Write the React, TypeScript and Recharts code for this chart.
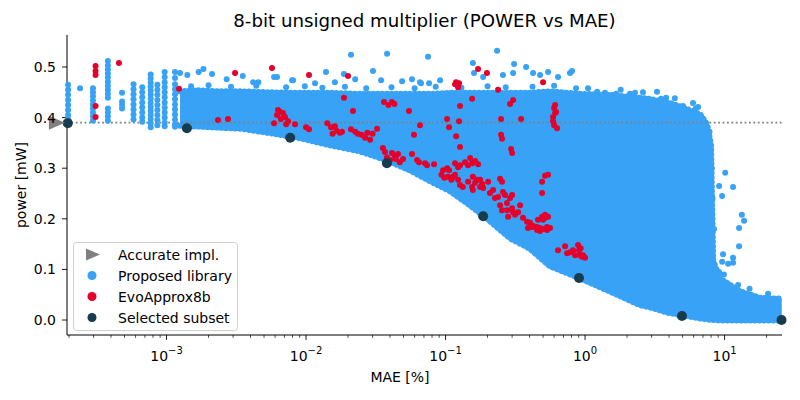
import React from "react";
import {
  Area,
  ComposedChart,
  ReferenceDot,
  ReferenceLine,
  Scatter,
  XAxis,
  YAxis,
} from "recharts";

// MAE [%] (log axis) / power [mW]
const majorTicks = [1e-3, 1e-2, 1e-1, 1, 10];
const majorExponents = ["\u22123", "\u22122", "\u22121", "0", "1"];
const minorTicks = [
  2e-4, 3e-4, 4e-4, 5e-4, 6e-4, 7e-4, 8e-4, 9e-4,
  2e-3, 3e-3, 4e-3, 5e-3, 6e-3, 7e-3, 8e-3, 9e-3,
  2e-2, 3e-2, 4e-2, 5e-2, 6e-2, 7e-2, 8e-2, 9e-2,
  0.2, 0.3, 0.4, 0.5, 0.6, 0.7, 0.8, 0.9,
  2, 3, 4, 5, 6, 7, 8, 9, 20,
];
const powerTicks = [0, 0.1, 0.2, 0.3, 0.4, 0.5];

const accurateMae = 1.61e-4;
const accuratePower = 0.39;

// dense part of the proposed library cloud: lower / upper envelope
const bandMae = [
  1.25e-3, 1.74e-3, 2.4e-3, 3.4e-3, 5.5e-3, 9.1e-3, 0.0148, 0.0244, 0.038,
  0.056, 0.0775, 0.108, 0.15, 0.208, 0.29, 0.4, 0.56, 0.92, 1.51, 2.48, 2.9,
  4.07, 4.8, 6.67, 7.5, 8.0, 8.3, 9.3, 12.9, 17.9, 25.7,
];
const bandLow = [
  0.384, 0.382, 0.38, 0.378, 0.369, 0.359, 0.345, 0.333, 0.315, 0.295, 0.274,
  0.254, 0.226, 0.195, 0.161, 0.141, 0.106, 0.082, 0.056, 0.029, 0.025, 0.013,
  0.01, 0.003, 0.001, 0.0, 0.0, -0.001, -0.001, -0.001, -0.001,
];
const bandHigh = [
  0.452, 0.454, 0.452, 0.452, 0.45, 0.449, 0.449, 0.447, 0.447, 0.447, 0.447,
  0.449, 0.449, 0.449, 0.449, 0.449, 0.452, 0.447, 0.445, 0.439, 0.437, 0.429,
  0.422, 0.407, 0.387, 0.347, 0.117, 0.082, 0.057, 0.044, 0.042,
];

// vertical streaks of the proposed library at small MAE
const libraryColumns: [number, number[]][] = [
  [1.97e-4, [0.465, 0.455, 0.445, 0.435, 0.425, 0.415, 0.405, 0.396]],
  [2.4e-4, [0.458]],
  [2.97e-4, [0.458, 0.45, 0.442, 0.434, 0.426, 0.418, 0.41, 0.402, 0.394]],
  [3.8e-4, [0.512, 0.503, 0.495, 0.487, 0.479, 0.471, 0.463, 0.455, 0.447, 0.439, 0.418, 0.41, 0.402, 0.394]],
  [4.8e-4, [0.449, 0.432, 0.425, 0.418]],
  [5.8e-4, [0.466, 0.456, 0.446, 0.436, 0.426, 0.416, 0.406, 0.396]],
  [6.7e-4, [0.46, 0.45, 0.44, 0.43, 0.42, 0.41, 0.4, 0.392]],
  [7.7e-4, [0.485, 0.477, 0.469, 0.461, 0.453, 0.445, 0.437, 0.429, 0.421, 0.413, 0.405, 0.397, 0.389, 0.381]],
  [8.6e-4, [0.465, 0.455, 0.445, 0.435, 0.425, 0.415, 0.405, 0.395, 0.385]],
  [9.7e-4, [0.49, 0.48, 0.47, 0.46, 0.45, 0.44, 0.43, 0.42, 0.41, 0.4, 0.39, 0.383]],
  [1.15e-3, [0.49, 0.478, 0.466, 0.456, 0.446, 0.436, 0.426, 0.416, 0.406, 0.396, 0.386, 0.382]],
];

// scattered library points outside the dense band
const libraryOutliers: [number, number][] = [
  [1.25e-3, 0.488], [1.41e-3, 0.484], [1.7e-3, 0.49], [1.84e-3, 0.496],
  [2.12e-3, 0.486], [2.7e-3, 0.476], [3.52e-3, 0.482], [4.18e-3, 0.47],
  [4.55e-3, 0.47], [5.9e-3, 0.48], [6.2e-3, 0.48], [7.94e-3, 0.474],
  [8.07e-3, 0.474], [0.0116, 0.468], [0.0139, 0.49], [0.0161, 0.47],
  [0.0187, 0.486], [0.021, 0.524], [0.0225, 0.476], [0.0302, 0.492],
  [0.0345, 0.474], [0.0381, 0.526], [0.0488, 0.472], [0.0575, 0.476],
  [0.0656, 0.47], [0.0667, 0.468], [0.0749, 0.52], [0.0762, 0.468],
  [0.0914, 0.474], [0.157, 0.508], [0.16, 0.488], [0.186, 0.48],
  [0.234, 0.532], [0.258, 0.484], [0.305, 0.488], [0.31, 0.506],
  [0.378, 0.5], [0.424, 0.488], [0.476, 0.484], [0.543, 0.49],
  [0.64, 0.48], [0.78, 0.488], [0.807, 0.492], [0.862, 0.458],
  [1.22, 0.451], [1.39, 0.449], [1.67, 0.447], [2.1, 0.447], [2.28, 0.449],
  [3.28, 0.451], [3.51, 0.437], [3.81, 0.439], [5.04, 0.423], [5.94, 0.429],
  [6.46, 0.421], [6.79, 0.401], [10.1, 0.291], [11.5, 0.263], [9.14, 0.265],
  [9.6, 0.245], [13.3, 0.208], [13.8, 0.196], [12.7, 0.182], [12.7, 0.146],
  [9.75, 0.13], [11.5, 0.123], [9.6, 0.115], [10.6, 0.111], [11.5, 0.113],
  [9.14, 0.095], [12.5, 0.069],
  // ragged rim just above the dense band
  [1.5e-3, 0.462], [2.0e-3, 0.464], [2.9e-3, 0.461], [4.4e-3, 0.463],
  [0.0072, 0.46], [0.0098, 0.462], [0.0131, 0.459], [0.019, 0.461],
  [0.027, 0.458], [0.041, 0.46], [0.06, 0.458], [0.085, 0.461],
  [0.13, 0.459], [0.2, 0.462], [0.27, 0.46], [0.42, 0.461], [0.6, 0.463],
  [1.05, 0.458], [1.8, 0.455], [2.6, 0.45], [4.4, 0.438], [6.2, 0.418],
  [7.8, 0.372], [8.1, 0.3], [8.2, 0.24], [8.4, 0.18],
  [9.9, 0.09], [15.1, 0.062], [20.5, 0.052],
];

const evoApprox: [number, number][] = [
  [3.1e-4, 0.502], [3.1e-4, 0.492], [3.1e-4, 0.484], [3.1e-4, 0.423], [3.1e-4, 0.401],
  [4.56e-4, 0.508], [1.23e-3, 0.457], [2.34e-3, 0.395], [2.76e-3, 0.397],
  [3.1e-3, 0.488], [5.7e-3, 0.498], [5.9e-3, 0.389],
  [6.3e-3, 0.415], [6.52e-3, 0.411], [6.84e-3, 0.409], [7.07e-3, 0.401],
  [7.43e-3, 0.393], [6.6e-3, 0.397], [7.2e-3, 0.387], [6.2e-3, 0.405], [8.34e-3, 0.387],
  [0.01, 0.381], [0.0105, 0.377], [0.0105, 0.484], [0.0142, 0.389],
  [0.0151, 0.381], [0.0161, 0.383], [0.0165, 0.374], [0.0175, 0.37], [0.0155, 0.368], [0.0181, 0.372],
  [0.0187, 0.439], [0.02, 0.482], [0.0217, 0.413],
  [0.021, 0.377], [0.0225, 0.372], [0.0235, 0.368], [0.025, 0.366], [0.0275, 0.37],
  [0.03, 0.368], [0.0323, 0.378], [0.0265, 0.36], [0.0288, 0.356],
  [0.0362, 0.431], [0.039, 0.425], [0.0413, 0.431], [0.043, 0.427], [0.0547, 0.413],
  [0.0356, 0.34], [0.0368, 0.332], [0.0413, 0.33], [0.0434, 0.324], [0.0456, 0.328],
  [0.0496, 0.318], [0.0575, 0.328], [0.038, 0.321], [0.04, 0.316], [0.044, 0.318], [0.047, 0.312],
  [0.0594, 0.366], [0.0656, 0.385],
  [0.0625, 0.316], [0.0646, 0.312], [0.0713, 0.31], [0.0737, 0.306], [0.0827, 0.308],
  [0.096, 0.296], [0.1026, 0.3], [0.117, 0.31], [0.117, 0.287],
  [0.0935, 0.287], [0.098, 0.281], [0.104, 0.283], [0.11, 0.277], [0.106, 0.296],
  [0.1026, 0.397], [0.106, 0.381], [0.119, 0.363], [0.125, 0.393], [0.127, 0.342],
  [0.119, 0.47], [0.117, 0.466], [0.123, 0.46], [0.125, 0.468],
  [0.171, 0.496], [0.198, 0.488], [0.238, 0.455], [0.155, 0.437], [0.127, 0.423],
  [0.25, 0.397], [0.25, 0.366], [0.254, 0.358], [0.295, 0.338], [0.3, 0.33],
  [0.305, 0.435], [0.29, 0.427], [0.348, 0.397],
  [0.123, 0.302], [0.127, 0.306], [0.138, 0.312], [0.15, 0.32], [0.155, 0.31],
  [0.163, 0.314], [0.171, 0.308], [0.145, 0.306],
  [0.113, 0.283], [0.123, 0.277], [0.127, 0.267], [0.133, 0.263], [0.145, 0.273],
  [0.155, 0.263], [0.157, 0.257], [0.163, 0.271], [0.177, 0.263], [0.186, 0.261],
  [0.202, 0.273], [0.208, 0.251], [0.219, 0.257], [0.226, 0.241], [0.238, 0.243],
  [0.246, 0.279], [0.254, 0.273], [0.258, 0.253], [0.267, 0.247], [0.276, 0.231],
  [0.29, 0.241], [0.246, 0.227], [0.254, 0.217], [0.276, 0.217], [0.3, 0.221],
  [0.3, 0.247], [0.305, 0.213], [0.315, 0.208], [0.331, 0.213], [0.342, 0.227], [0.281, 0.204],
  [0.168, 0.277], [0.177, 0.277], [0.183, 0.269], [0.157, 0.283],
  [0.359, 0.202], [0.384, 0.194], [0.404, 0.192], [0.424, 0.186], [0.453, 0.184],
  [0.476, 0.182], [0.5, 0.18], [0.534, 0.178], [0.46, 0.198], [0.492, 0.204],
  [0.517, 0.202], [0.534, 0.184], [0.561, 0.182], [0.417, 0.184], [0.453, 0.178],
  [0.476, 0.176], [0.39, 0.182],
  [0.492, 0.273], [0.517, 0.285], [0.543, 0.287], [0.492, 0.251],
  [0.5, 0.47],
  [0.61, 0.425], [0.6, 0.419], [0.61, 0.409], [0.62, 0.411], [0.59, 0.401],
  [0.59, 0.393], [0.6, 0.385], [0.63, 0.379],
  [0.517, 0.208], [0.543, 0.204], [0.5, 0.198],
  [0.64, 0.138], [0.719, 0.146], [0.743, 0.132], [0.78, 0.134], [0.82, 0.138],
  [0.848, 0.128], [0.891, 0.148], [0.906, 0.138], [0.92, 0.128], [0.952, 0.125],
  [0.968, 0.128], [1.0, 0.123], [0.93, 0.142],
];

const selectedMae = [1.96e-4, 1.4e-3, 7.7e-3, 0.038, 0.186, 0.905, 4.95, 25.6];
const selectedPower = [0.389, 0.379, 0.36, 0.31, 0.205, 0.083, 0.008, 0.0];

const BLUE = "#37a2f6";
const RED = "#e4002b";
const DARK = "#163c4e";
const GRAY = "#808080";
const FONT = "DejaVu Sans, sans-serif";

const bandData = bandMae.map((mae, i) => ({ mae, band: [bandLow[i], bandHigh[i]] }));
const libraryData = [
  ...libraryColumns.flatMap(([mae, ps]) => ps.map((power) => ({ mae, power }))),
  ...libraryOutliers.map(([mae, power]) => ({ mae, power })),
];
const evoData = evoApprox.map(([mae, power]) => ({ mae, power }));
const selectedData = selectedMae.map((mae, i) => ({ mae, power: selectedPower[i] }));

const dot = (r: number, fill: string) => (props: any) =>
  <circle cx={props.cx} cy={props.cy} r={r} fill={fill} />;

function MaeTick({ x, y, payload }: any) {
  const i = majorTicks.indexOf(payload.value);
  if (i < 0) {
    return <line x1={x} x2={x} y1={y} y2={y + 2.8} stroke="#000" strokeWidth={0.7} />;
  }
  return (
    <g>
      <line x1={x} x2={x} y1={y} y2={y + 4.9} stroke="#000" strokeWidth={0.9} />
      <text x={x} y={y + 26} textAnchor="middle" fontSize={14} fill="#000" fontFamily={FONT}>
        10<tspan dy={-7} fontSize={10}>{majorExponents[i]}</tspan>
      </text>
    </g>
  );
}

function Triangle({ cx, cy }: any) {
  return (
    <polygon
      points={`${cx - 7},${cy - 7} ${cx + 9},${cy} ${cx - 7},${cy + 7}`}
      fill={GRAY}
    />
  );
}

const legendItems = [
  { label: "Accurate impl.", kind: "tri", color: GRAY },
  { label: "Proposed library", kind: "dot", color: BLUE },
  { label: "EvoApprox8b", kind: "dot", color: RED },
  { label: "Selected subset", kind: "dot", color: DARK },
];

export default function App() {
  return (
    <div style={{ position: "absolute", left: 0, top: 0, width: 800, height: 400, background: "#fff" }}>
      <ComposedChart
        width={800}
        height={400}
        data={bandData}
        margin={{ top: 35, right: 18, bottom: 0, left: 0 }}
        style={{ fontFamily: FONT }}
      >
        <XAxis
          dataKey="mae"
          type="number"
          scale="log"
          domain={[1.935e-4, 25.8]}
          ticks={[...majorTicks, ...minorTicks]}
          interval={0}
          height={65}
          tickSize={0}
          tickMargin={0}
          tickLine={false}
          tick={<MaeTick />}
          axisLine={{ stroke: "#000", strokeWidth: 1 }}
        />
        <YAxis
          type="number"
          domain={[-0.0296, 0.5632]}
          ticks={powerTicks}
          width={67}
          tickSize={5}
          tickMargin={6}
          tickFormatter={(v: number) => v.toFixed(1)}
          tick={{ fill: "#000", fontSize: 14, fontFamily: FONT }}
          tickLine={{ stroke: "#000", strokeWidth: 0.9 }}
          axisLine={{ stroke: "#000", strokeWidth: 1 }}
        />
        <Area
          type="linear"
          dataKey="band"
          stroke={BLUE}
          strokeWidth={6}
          strokeDasharray="0.1 4.5"
          strokeLinecap="round"
          fill={BLUE}
          fillOpacity={1}
          dot={false}
          activeDot={false}
          isAnimationActive={false}
        />
        <Scatter
          data={libraryData}
          dataKey="power"
          shape={dot(3, BLUE)}
          isAnimationActive={false}
        />
        <Scatter
          data={evoData}
          dataKey="power"
          shape={dot(3, RED)}
          isAnimationActive={false}
        />
        <ReferenceLine
          y={0.39}
          stroke={GRAY}
          strokeWidth={1.8}
          strokeDasharray="1.8 2.6"
        />
        <Scatter
          data={selectedData}
          dataKey="power"
          shape={dot(5, DARK)}
          isAnimationActive={false}
        />
        <ReferenceDot
          x={accurateMae}
          y={accuratePower}
          ifOverflow="visible"
          shape={<Triangle />}
        />
      </ComposedChart>

      <svg
        width={800}
        height={400}
        style={{ position: "absolute", left: 0, top: 0, pointerEvents: "none" }}
        fontFamily={FONT}
      >
        <text x={424.5} y={27} textAnchor="middle" fontSize={18.2} fill="#000">
          8-bit unsigned multiplier (POWER vs MAE)
        </text>
        <text x={400} y={382} textAnchor="middle" fontSize={14} fill="#000">
          MAE [%]
        </text>
        <text
          x={0}
          y={0}
          transform="translate(26 185) rotate(-90)"
          textAnchor="middle"
          fontSize={14}
          fill="#000"
        >
          power [mW]
        </text>
        <g transform="translate(73 242)">
          <rect x={0.5} y={0.5} width={164} height={88} rx={3} fill="#fff" fillOpacity={0.8} stroke="#d0d0d0" />
          {legendItems.map((it, i) => {
            const cy = 12.5 + i * 21;
            return (
              <g key={it.label}>
                {it.kind === "tri" ? (
                  <polygon points={`${13},${cy - 6} ${27},${cy} ${13},${cy + 6}`} fill={it.color} />
                ) : (
                  <circle cx={19} cy={cy} r={4.5} fill={it.color} />
                )}
                <text x={45} y={cy + 5} fontSize={14} fill="#000">
                  {it.label}
                </text>
              </g>
            );
          })}
        </g>
      </svg>
    </div>
  );
}
